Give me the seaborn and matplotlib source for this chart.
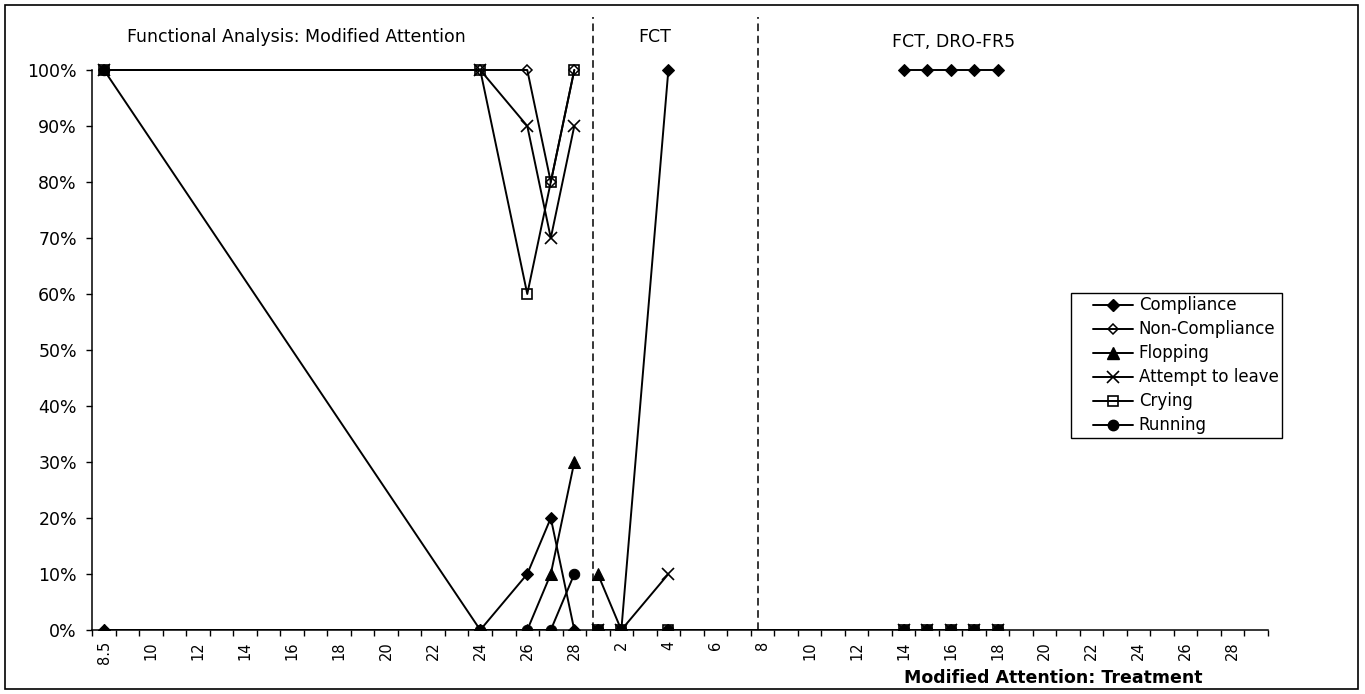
import matplotlib
matplotlib.use("Agg")
import matplotlib.pyplot as plt
from matplotlib.lines import Line2D
from matplotlib.patches import Rectangle
from matplotlib.legend_handler import HandlerLine2D
import pandas as pd
import seaborn as sns

# Session slots on the category axis (50 slots, a label on every other slot)
n_slots = 50
slot_labels = ["8.5"] + [str(v) for v in range(10, 30, 2)] + [str(v) for v in range(2, 30, 2)]

# Observed sessions: slot index and phase
slot = [0, 16, 18, 19, 20, 21, 22, 24, 34, 35, 36, 37, 38]
phase = [1, 1, 1, 1, 1, 2, 2, 2, 3, 3, 3, 3, 3]

# Percentage of intervals per behaviour
compliance = [0, 0, 10, 20, 0, 0, 0, 100, 100, 100, 100, 100, 100]
non_compliance = [100, 100, 100, 80, 100, 0, 0, 0, 0, 0, 0, 0, 0]
flopping = [0, 0, 0, 10, 30, 10, 0, 0, 0, 0, 0, 0, 0]
attempt_to_leave = [100, 100, 90, 70, 90, 0, 0, 10, 0, 0, 0, 0, 0]
crying = [100, 100, 60, 80, 100, 0, 0, 0, 0, 0, 0, 0, 0]
running = [100, 0, 0, 0, 10, 0, 0, 0, 0, 0, 0, 0, 0]

series_names = ["Compliance", "Non-Compliance", "Flopping", "Attempt to leave", "Crying", "Running"]
series_values = [compliance, non_compliance, flopping, attempt_to_leave, crying, running]
# series whose line carries on from the FCT phase into FCT, DRO-FR5
joined_fct_dro = ["Non-Compliance", "Flopping", "Crying", "Running"]

phase_titles = ["Functional Analysis: Modified Attention", "FCT", "FCT, DRO-FR5"]
phase_lines = [20.8, 27.8]
x_title = "Modified Attention: Treatment"

marker_style = {
    "Compliance": dict(marker="D", markersize=6.5, markerfacecolor="black"),
    "Non-Compliance": dict(marker="D", markersize=5.0, markerfacecolor="none",
                           markeredgewidth=1.1),
    "Flopping": dict(marker="^", markersize=8, markerfacecolor="black"),
    "Attempt to leave": dict(marker="x", markersize=8, markeredgewidth=1.2),
    "Crying": dict(marker="s", markersize=7, markerfacecolor="none",
                   markeredgewidth=1.2),
    "Running": dict(marker="o", markersize=7.5, markerfacecolor="black"),
}

sns.set_theme(style="white")
plt.rcParams["font.family"] = ["DejaVu Sans"]
plt.rcParams["text.color"] = "black"
plt.rcParams["xtick.color"] = "black"
plt.rcParams["ytick.color"] = "black"

W, H = 1365, 694
fig = plt.figure(figsize=(W / 100, H / 100), dpi=100)
fig.patch.set_facecolor("white")

px_per_pct = 5.6
ax_left, ax_bottom_px, ax_w = 92.25, 64, 1175.75
ax_h = 620
ax = fig.add_axes([ax_left / W, ax_bottom_px / H, ax_w / W, ax_h / H])
ax.set_facecolor("white")

rows = []
for name, vals in zip(series_names, series_values):
    for s, p, v in zip(slot, phase, vals):
        seg = p
        if name in joined_fct_dro and p == 3:
            seg = 2
        rows.append(dict(series=name, slot=s, seg=seg, value=v))
df = pd.DataFrame(rows)

for name in series_names:
    sub = df[df.series == name]
    for seg, part in sub.groupby("seg"):
        sns.lineplot(data=part, x="slot", y="value", ax=ax, color="black",
                     linewidth=1.4, markeredgecolor="black", errorbar=None,
                     legend=False, sort=False, **marker_style[name])

ax.set_xlim(-0.5, n_slots - 0.5)
ymax = ax_h / px_per_pct
ax.set_ylim(0, ymax)

# phase change lines
for xv in phase_lines:
    ax.axvline(xv, ymin=0, ymax=109.5 / ymax, color="black", lw=1.1,
               linestyle=(0, (5, 3)))

# phase titles
ax.text(0.98, 105.9, phase_titles[0], fontsize=12.5, ha="left", va="center",
        color="black")
ax.text(22.7, 105.9, phase_titles[1], fontsize=12.5, ha="left", va="center",
        color="black")
ax.text(33.5, 105.0, phase_titles[2], fontsize=12.5, ha="left", va="center",
        color="black")

# axes styling
for side in ["top", "right"]:
    ax.spines[side].set_visible(False)
ax.spines["left"].set_bounds(0, 100)
for side in ["left", "bottom"]:
    ax.spines[side].set_color("black")
    ax.spines[side].set_linewidth(1.1)

ax.set_yticks(range(0, 101, 10))
ax.set_yticklabels([f"{v}%" for v in range(0, 101, 10)], fontsize=12.5)
ax.tick_params(axis="y", direction="out", length=4, width=1, color="black",
               pad=7, labelcolor="black", left=True)

ax.set_xticks(range(0, n_slots, 2))
ax.set_xticklabels(slot_labels, rotation=90, fontsize=10.5)
ax.set_xticks([i - 0.5 for i in range(n_slots + 1)], minor=True)
ax.tick_params(axis="x", which="major", length=0, pad=8, labelcolor="black")
ax.tick_params(axis="x", which="minor", direction="out", length=4, width=1,
               color="black", bottom=True)
ax.set_xlabel("")
ax.set_ylabel("")
ax.grid(False)

fig.text(1053 / W, 1 - 678 / H, x_title, fontsize=12.5, fontweight="bold",
         ha="center", va="center", color="black")

# legend: short line sample set in from the frame edge
handles = []
for name in series_names:
    st = dict(marker_style[name])
    handles.append(Line2D([0], [0], color="black", linewidth=1.4,
                          markeredgecolor="black", **st))
leg_fs = 12
leg = ax.legend(handles, series_names, loc="upper left",
                bbox_to_anchor=(1071 / W, 1 - 293 / H),
                bbox_transform=fig.transFigure, borderaxespad=0,
                fontsize=leg_fs, frameon=True, fancybox=False, framealpha=1,
                edgecolor="black", handlelength=3.5, handletextpad=0.36,
                labelspacing=0.36, borderpad=0.2,
                handler_map={Line2D: HandlerLine2D(numpoints=1, xpad=1.1)})
leg.get_frame().set_linewidth(1.0)
for t in leg.get_texts():
    t.set_color("black")

# outer border
fig.patches.append(Rectangle((5 / W, 5 / H), (1358 - 5) / W, (689 - 5) / H,
                             transform=fig.transFigure, fill=False,
                             edgecolor="black", linewidth=1.2))

fig.savefig("out.png", dpi=100, facecolor="white")
